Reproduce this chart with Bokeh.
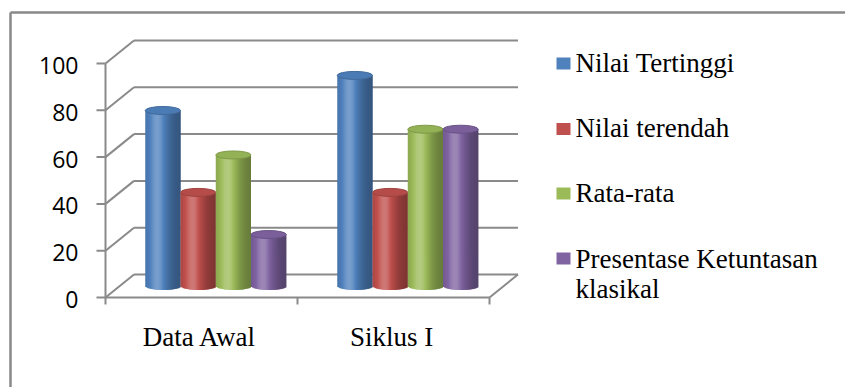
import numpy as np
from bokeh.plotting import figure
from bokeh.models import Range1d, ColumnDataSource
from bokeh.core.properties import value
from bokeh.embed import file_html
from bokeh.resources import INLINE

# ---- data ----
categories = ["Data Awal", "Siklus I"]
series_names = ["Nilai Tertinggi", "Nilai terendah", "Rata-rata", "Presentase Ketuntasan klasikal"]
nilai_tertinggi = [75, 90]
nilai_terendah = [40, 40]
rata_rata = [56, 67]
presentase_ketuntasan = [22, 67]
y_ticks = [0, 20, 40, 60, 80, 100]
series_values = [nilai_tertinggi, nilai_terendah, rata_rata, presentase_ketuntasan]
series_colors = ["#4F81BD", "#C0504D", "#9BBB59", "#8064A2"]

# ---- canvas geometry (pixels) ----
W, H = 845, 387
X0_PX, Y0_PX = 105, 297          # front corner of the value axis (value 0)
PX_PER_CAT, PX_PER_VAL = 192.0, 2.34

def X(px):
    return (px - X0_PX) / PX_PER_CAT

def Y(py):
    return (Y0_PX - py) / PX_PER_VAL

DX = 28.5 / PX_PER_CAT            # depth offset of the back wall
DY = 23.0 / PX_PER_VAL
BAR_W = 35.25 / PX_PER_CAT
RY = 4.0 / PX_PER_VAL             # vertical radius of cylinder ends
GRID = "#8A8A8A"
SERIF_SHIFT = -10                 # screen offset for serif labels
SERIF_SIZE = "27px"

p = figure(width=W, height=H, output_backend="svg", toolbar_location=None,
           x_range=Range1d(X(0), X(W)), y_range=Range1d(Y(H), Y(0)),
           x_axis_location=None, y_axis_location=None, min_border=0,
           outline_line_color=None, background_fill_color="white",
           border_fill_color="white")
p.grid.visible = False

ncat = len(categories)

# outer chart border
p.segment(x0=[X(10), X(10)], y0=[Y(12), Y(12)], x1=[X(W), X(10)], y1=[Y(12), Y(H)],
          line_color="#888888", line_width=2.5)

# back wall gridlines and side wall diagonals
p.segment(x0=[DX] * len(y_ticks), y0=[v + DY for v in y_ticks],
          x1=[ncat + DX] * len(y_ticks), y1=[v + DY for v in y_ticks],
          line_color=GRID, line_width=2)
p.segment(x0=[0] * len(y_ticks), y0=y_ticks, x1=[DX] * len(y_ticks),
          y1=[v + DY for v in y_ticks], line_color=GRID, line_width=2)
# floor front and right edges
p.segment(x0=[0, ncat], y0=[0, 0], x1=[ncat, ncat + DX], y1=[0, DY],
          line_color=GRID, line_width=2)
# value axis line and its ticks
p.segment(x0=[0], y0=[0], x1=[0], y1=[max(y_ticks)], line_color=GRID, line_width=2)
p.segment(x0=[X(96)] * len(y_ticks), y0=y_ticks, x1=[0] * len(y_ticks), y1=y_ticks,
          line_color=GRID, line_width=2)
# category axis ticks
cat_edges = list(range(ncat + 1))
p.segment(x0=cat_edges, y0=[0] * len(cat_edges), x1=cat_edges,
          y1=[Y(304)] * len(cat_edges), line_color=GRID, line_width=2)

# value tick labels
p.text(x=[X(78)] * len(y_ticks), y=y_ticks, text=[str(v) for v in y_ticks],
       text_align="right", text_baseline="middle", y_offset=2,
       text_font=value("Open Sans"), text_font_size="23px", text_color="black")

# category labels
p.text(x=[i + 0.49 for i in range(ncat)], y=[Y(346)] * ncat, text=categories,
       text_align="center", text_baseline="alphabetic", y_offset=SERIF_SHIFT,
       text_font=value("Liberation Serif"), text_font_size=SERIF_SIZE, text_color="black")


def shade(hex_color, b):
    r, g, bl = (int(hex_color[i:i + 2], 16) for i in (1, 3, 5))
    out = []
    for c in (r, g, bl):
        if b >= 1:
            c = c + (255 - c) * min(1.0, (b - 1) * 2.2)
        else:
            c = c * b
        out.append(int(max(0, min(255, round(c)))))
    return "#%02x%02x%02x" % tuple(out)


def brightness(t):
    return 0.82 + 0.34 * np.exp(-((t - 0.36) / 0.30) ** 2) - 0.16 * t


# cylinders: each body is a set of overlapping vertical strips with a rounded bottom
N = 30
gap = 1 - 4 * BAR_W
base = DY / 2
for s, (vals, col) in enumerate(zip(series_values, series_colors)):
    left, right, bottom, top, colors = [], [], [], [], []
    cxs, tops = [], []
    for c, v in enumerate(vals):
        cx = c + gap / 2 + (s + 0.5) * BAR_W + DX / 2
        cxs.append(cx)
        tops.append(v + base)
        for k in range(N):
            x0 = cx - BAR_W / 2 + k * BAR_W / N
            t = (k + 0.5) / N
            u = 2 * t - 1
            left.append(x0)
            right.append(min(cx + BAR_W / 2, x0 + 2 * BAR_W / N))
            bottom.append(base - RY * np.sqrt(max(0.0, 1 - u * u)))
            top.append(v + base)
            colors.append(shade(col, brightness(t)))
    src = ColumnDataSource(dict(left=left, right=right, bottom=bottom, top=top, color=colors))
    p.quad(left="left", right="right", bottom="bottom", top="top", source=src,
           fill_color="color", line_color=None)
    p.ellipse(x=cxs, y=tops, width=BAR_W, height=2 * RY,
              fill_color=shade(col, 0.95), line_color=shade(col, 0.82), line_width=1)

# legend
leg_sq_y = [63, 128.5, 193, 258]
leg_base = [72, 137, 202, 268]
p.rect(x=[X(563)] * 4, y=[Y(v) for v in leg_sq_y], width=14, height=12,
       width_units="screen", height_units="screen",
       fill_color=series_colors, line_color=None)
legend_lines = ["Nilai Tertinggi", "Nilai terendah", "Rata-rata", "Presentase Ketuntasan", "klasikal"]
p.text(x=[X(575)] * 5, y=[Y(v) for v in leg_base + [298]], text=legend_lines,
       text_align="left", text_baseline="alphabetic", y_offset=SERIF_SHIFT,
       text_font=value("Liberation Serif"), text_font_size=SERIF_SIZE, text_color="black")

open("out.html", "w").write(file_html(p, INLINE))
